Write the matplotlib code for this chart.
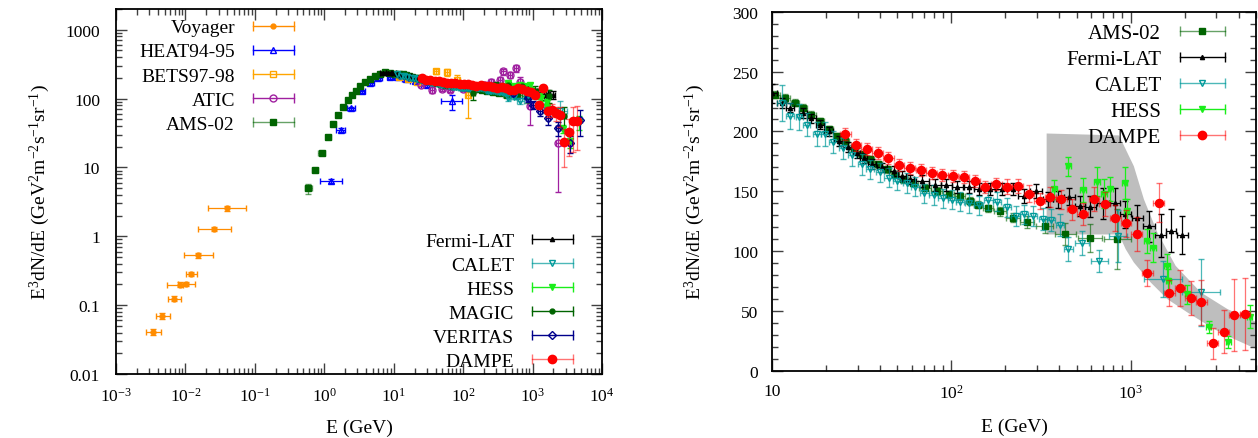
import numpy as np
import matplotlib
matplotlib.use('Agg')
import matplotlib.pyplot as plt
from matplotlib.lines import Line2D
from matplotlib.legend_handler import HandlerLine2D, HandlerTuple
from matplotlib.ticker import LogLocator, MultipleLocator, FuncFormatter, NullFormatter
from matplotlib.colors import to_rgba

plt.rcParams['font.family'] = 'Liberation Serif'
plt.rcParams['mathtext.fontset'] = 'custom'
plt.rcParams['mathtext.rm'] = 'Liberation Serif'
plt.rcParams['mathtext.it'] = 'Liberation Serif:italic'
plt.rcParams['mathtext.bf'] = 'Liberation Serif:bold'

# ---------------- data (E in GeV, E^3 dN/dE in GeV^2 m^-2 s^-1 sr^-1) -------------
voyager_E = [0.00344, 0.00465, 0.00685, 0.00835, 0.0101, 0.0119, 0.0153, 0.0261, 0.0394]
voyager_V = [0.0407, 0.0697, 0.124, 0.199, 0.203, 0.288, 0.53, 1.27, 2.54]
voyager_Elo = [0.0027, 0.0038, 0.0056, 0.0054, 0.0079, 0.0102, 0.0095, 0.0150, 0.0209]
voyager_Ehi = [0.0045, 0.0059, 0.0086, 0.0093, 0.0137, 0.0145, 0.0252, 0.0451, 0.0746]
voyager_err = [0.004, 0.006, 0.01, 0.015, 0.015, 0.02, 0.04, 0.09, 0.18]

heat_E = [1.24, 1.72, 2.43, 3.47, 4.57, 6.0, 8.9, 11.0, 15.0, 20.0, 30.0, 68.7]
heat_V = [6.34, 35.0, 72.5, 127.0, 168.0, 198.0, 205.0, 208.0, 190.0, 180.0, 160.0, 90.8]
heat_err = [0.4, 2.0, 4.0, 7.0, 8.0, 10.0, 10.0, 10.0, 10.0, 10.0, 12.0, 22.0]
heat_dex = [0.16, 0.07, 0.06, 0.05, 0.05, 0.05, 0.05, 0.05, 0.06, 0.06, 0.08, 0.15]

bets_E = [12.0, 16.0, 22.0, 41.0, 58.0, 81.0, 119.0]
bets_V = [205.0, 190.0, 175.0, 248.0, 240.0, 187.0, 113.0]
bets_err = [10.0, 10.0, 10.0, 20.0, 25.0, 30.0, 60.0]

atic_E = [25.0, 35.3, 50.0, 65.0, 100.0, 150.0, 200.0, 250.0, 341.0, 381.0, 476.0, 580.0, 663.0, 923.0, 2360.0]
atic_V = [160.0, 134.0, 138.0, 134.0, 140.0, 150.0, 160.0, 175.0, 187.0, 248.0, 221.0, 277.0, 177.0, 77.0, 22.4]
atic_err = [8.0, 12.0, 8.0, 10.0, 10.0, 12.0, 15.0, 18.0, 20.0, 25.0, 25.0, 35.0, 30.0, 35.0, 18.0]

ams_E = [0.59, 0.736, 0.92, 1.15, 1.35, 1.6, 1.88, 2.18, 2.49, 2.84, 3.28, 3.87, 4.57, 5.4,
         6.37, 7.5, 8.8, 10.4, 11.8, 13.4, 14.9, 16.6, 18.5, 20.7, 23.0, 25.6, 28.5, 31.7,
         35.3, 39.2, 43.7, 48.6, 54.1, 61.5, 71.5, 82.8, 96.5, 112.0, 127.0, 141.0, 160.0,
         186.0, 221.0, 265.0, 331.0, 433.0, 593.0, 843.0]
ams_V = [4.97, 9.2, 16.0, 27.4, 42.4, 58.0, 75.0, 95.7, 113.0, 131.0, 150.0, 173.0, 192.0, 210.0,
         229.0, 240.0, 236.0, 230.8, 228.0, 224.0, 219.7, 214.0, 208.6, 201.7, 196.0, 192.0, 186.4, 180.8,
         176.7, 172.5, 168.3, 164.2, 160.0, 157.2, 153.0, 150.3, 147.5, 146.0, 141.9, 139.0, 136.0,
         133.3, 128.0, 124.4, 121.0, 114.4, 111.0, 110.0]
ams_err = [0.8, 0.4, 0.6, 1.0, 1.5, 2, 2, 3, 3, 3, 3, 3, 3, 3,
           3, 3, 3, 3, 3, 3, 3, 3, 3, 3, 3, 3, 3, 3,
           3, 3, 3, 3, 3, 3, 3, 3, 3, 3, 3, 3, 3,
           4, 4, 5, 6, 9, 12, 25]

fermi_E = [7.0, 8.4, 10.0, 11.3, 12.6, 14.9, 16.6, 18.5, 20.7, 23.5, 26.5, 29.7, 32.5, 36.0,
           41.0, 47.6, 53.0, 59.0, 69.0, 81.0, 93.6, 108.0, 125.0, 142.0, 164.0, 191.0, 220.0,
           253.0, 298.0, 347.0, 395.0, 455.0, 524.0, 597.0, 703.0, 820.0, 935.0, 1090.0, 1265.0,
           1470.0, 1680.0, 1940.0]
fermi_V = [236.0, 237.0, 232.0, 224.0, 220.0, 215.6, 211.0, 205.8, 200.0, 192.0, 187.0, 182.2, 178.0, 173.0,
           170.0, 167.0, 163.0, 160.0, 158.6, 155.0, 155.0, 153.6, 153.9, 152.2, 151.7, 151.7, 152.2,
           146.0, 150.3, 143.3, 143.3, 145.6, 137.8, 137.2, 140.0, 140.0, 130.8, 128.0, 121.0,
           113.3, 117.0, 113.3]
fermi_err = [6, 6, 8, 4, 4, 4, 4, 4, 4, 4, 4, 4, 4, 4,
             4, 4, 4, 4, 5, 5, 5, 5, 5, 5, 5, 5, 5,
             6, 6, 6, 7, 7, 8, 9, 13, 13, 11, 11, 13,
             18, 18, 16]

calet_E = [11.3, 12.6, 14.2, 15.6, 17.8, 19.8, 22.0, 25.0, 27.9, 31.7, 35.3, 40.1, 44.7, 49.7,
           56.6, 63.1, 70.7, 79.6, 89.8, 101.0, 112.0, 126.0, 142.0, 161.0, 179.0, 204.0, 228.0,
           255.0, 284.0, 325.0, 360.0, 405.0, 450.0, 535.0, 670.0, 850.0, 1510.0, 2460.0]
calet_V = [224.0, 212.8, 212.2, 205.8, 198.0, 197.5, 191.0, 185.8, 180.0, 172.5, 168.3, 166.0, 161.4, 159.0,
           157.0, 153.8, 148.3, 146.9, 144.3, 143.0, 141.5, 140.0, 138.2, 142.7, 141.3, 136.8, 129.4,
           131.0, 129.4, 126.7, 126.1, 121.7, 101.7, 107.0, 92.0, 112.8, 76.7, 65.6]
calet_err = [15, 11, 11, 10, 10, 10, 9, 9, 9, 9, 8, 8, 8, 8,
             8, 8, 8, 8, 8, 8, 8, 8, 8, 8, 8, 8, 8,
             8, 8, 9, 9, 9, 10, 10, 9, 22, 15, 28]

hess_E = [376.0, 450.0, 543.0, 650.0, 710.0, 770.0, 925.0, 950.0, 1230.0, 1335.0, 1595.0, 1620.0,
          2070.0, 2720.0, 3500.0, 4610.0]
hess_V = [151.7, 171.0, 151.0, 158.0, 148.0, 152.0, 157.0, 134.0, 108.6, 103.0, 88.0, 75.0,
          64.0, 36.4, 24.0, 45.5]
hess_err = [8, 8, 10, 12, 12, 10, 13, 10, 10, 12, 10, 10, 8, 5, 5, 10]

magic_E = [140.0, 200.0, 300.0, 450.0, 700.0, 1100.0, 1700.0, 2800.0]
magic_V = [120.0, 150.0, 160.0, 160.0, 150.0, 130.0, 110.0, 55.0]
magic_err = [25.0, 15.0, 12.0, 15.0, 15.0, 20.0, 25.0, 20.0]

veritas_E = [531.0, 871.0, 1030.0, 1285.0, 1690.0, 2350.0, 3470.0, 4850.0]
veritas_V = [120.0, 101.0, 81.0, 65.0, 52.0, 37.0, 22.4, 49.0]
veritas_err = [10.0, 12.0, 10.0, 10.0, 10.0, 8.0, 6.0, 20.0]

dampe_E = [25.6, 29.4, 33.8, 38.8, 44.5, 51.0, 58.7, 67.7, 77.6, 89.0, 102.0, 118.0, 135.0, 155.0,
           178.0, 205.0, 234.0, 272.0, 311.0, 357.0, 410.0, 470.0, 540.0, 624.0, 716.0, 822.0,
           942.0, 1081.0, 1240.0, 1433.0, 1645.0, 1885.0, 2162.0, 2483.0, 2871.0, 3296.0, 3780.0, 4333.0]
dampe_V = [197.5, 189.0, 185.5, 181.7, 177.8, 171.7, 169.4, 167.8, 165.6, 163.3, 162.5, 161.9, 158.9, 153.9,
           155.8, 153.9, 154.4, 148.0, 141.9, 145.3, 143.3, 135.0, 131.1, 143.9, 139.4, 127.8,
           123.3, 114.4, 81.7, 140.6, 65.3, 69.2, 61.1, 57.2, 23.3, 32.8, 46.7, 47.8]
dampe_err = [5, 5, 5, 5, 5, 5, 5, 5, 5, 5, 5, 5, 5, 5,
             5, 6, 6, 7, 7, 8, 8, 9, 9, 10, 10, 11,
             11, 14, 11, 16, 11, 15, 14, 19, 13, 18, 30, 30]

# H.E.S.S. systematic band (upper and lower edges)
band_up_E = [340.0, 861.0, 1042.0, 1186.0, 1410.0, 1782.0, 2462.0, 3467.0, 5000.0]
band_up_V = [198.3, 196.7, 171.0, 143.3, 115.6, 87.8, 65.6, 51.7, 41.0]
band_lo_E = [340.0, 861.0, 938.0, 1042.0, 1294.0, 1603.0, 2073.0, 2919.0, 3775.0, 5000.0]
band_lo_V = [114.0, 114.0, 101.7, 90.6, 73.9, 60.0, 48.9, 35.0, 26.7, 18.5]

# ---------------- helpers -----------------
def dex_err(E, d):
    E = np.asarray(E, float)
    d = np.broadcast_to(np.asarray(d, float), E.shape)
    return np.vstack([E - E * 10 ** (-d), E * 10 ** d - E])

def neighbour_dex(E, frac=0.5, cap=0.12):
    lg = np.log10(np.asarray(E, float))
    g = np.diff(lg)
    left = np.concatenate([[g[0]], g])
    right = np.concatenate([g, [g[-1]]])
    return np.minimum(frac * np.minimum(left, right), cap)

def draw(ax, E, V, err, xerr, color, marker, mfc, ms, ealpha=1.0, z=3, lw=0.9, cap=2.2):
    ax.errorbar(E, V, yerr=err, xerr=xerr, fmt=marker, color=color, mfc=mfc, mec=color,
                ms=ms, ecolor=to_rgba(color, ealpha), elinewidth=lw, capsize=cap,
                capthick=lw, mew=1.0, zorder=z)

def handle(color, marker, mfc, ms, ealpha=1.0):
    l1 = Line2D([], [], color=to_rgba(color, ealpha), lw=1.0, marker='|', ms=7, mew=1.0)
    l2 = Line2D([], [], color=color, marker=marker, mfc=mfc, mec=color, ms=ms, ls='none', mew=1.0)
    return (l1, l2), l1

STY = {
    'Voyager': ('#ff8c00', 'o', '#ff8c00', 3.5, 1.0),
    'HEAT94-95': ('#0000ff', '^', 'none', 4.0, 1.0),
    'BETS97-98': ('#ffa500', 's', 'none', 5.0, 1.0),
    'ATIC': ('#a020a0', 'o', 'none', 5.0, 1.0),
    'AMS-02': ('#006400', 's', '#006400', 5.0, 0.6),
    'Fermi-LAT': ('#000000', '^', '#000000', 3.0, 1.0),
    'CALET': ('#009a9a', 'v', 'none', 5.0, 0.7),
    'HESS': ('#1aee1a', 'v', '#1aee1a', 4.5, 1.0),
    'MAGIC': ('#006400', 'o', '#006400', 3.5, 1.0),
    'VERITAS': ('#00008b', 'D', 'none', 4.0, 1.0),
    'DAMPE': ('#ff0000', 'o', '#ff0000', 6.0, 0.55),
}

fig = plt.figure(figsize=(12.58, 4.39), dpi=100)
W, H = 1258.0, 439.0
axL = fig.add_axes([116 / W, (H - 375) / H, 486 / W, 365 / H])
axR = fig.add_axes([772 / W, (H - 372) / H, 484 / W, 359.3 / H])

def S(name):
    return STY[name]

# ---------------- left panel ----------------
c, m, f, ms, a = S('Voyager')
draw(axL, voyager_E, voyager_V, voyager_err,
     [np.array(voyager_E) - np.array(voyager_Elo), np.array(voyager_Ehi) - np.array(voyager_E)],
     c, m, f, ms, a, z=3)
c, m, f, ms, a = S('HEAT94-95')
draw(axL, heat_E, heat_V, heat_err, dex_err(heat_E, heat_dex), c, m, f, ms, a, z=3)
c, m, f, ms, a = S('BETS97-98')
draw(axL, bets_E, bets_V, bets_err, dex_err(bets_E, 0.03), c, m, f, ms, a, z=3)
c, m, f, ms, a = S('ATIC')
draw(axL, atic_E, atic_V, atic_err, dex_err(atic_E, 0.03), c, m, f, ms, a, z=3)
c, m, f, ms, a = S('AMS-02')
draw(axL, ams_E, ams_V, ams_err, dex_err(ams_E, neighbour_dex(ams_E)), c, m, f, ms, a, z=4)
c, m, f, ms, a = S('Fermi-LAT')
draw(axL, fermi_E, fermi_V, fermi_err, dex_err(fermi_E, neighbour_dex(fermi_E, cap=0.04)), c, m, f, ms, a, z=5)
c, m, f, ms, a = S('CALET')
draw(axL, calet_E, calet_V, calet_err, dex_err(calet_E, neighbour_dex(calet_E)), c, m, f, ms, a, z=5)
c, m, f, ms, a = S('HESS')
draw(axL, hess_E, hess_V, hess_err, dex_err(hess_E, 0.015), c, m, f, ms, a, z=5)
c, m, f, ms, a = S('MAGIC')
draw(axL, magic_E, magic_V, magic_err, dex_err(magic_E, 0.03), c, m, f, ms, a, z=5)
c, m, f, ms, a = S('VERITAS')
draw(axL, veritas_E, veritas_V, veritas_err, dex_err(veritas_E, 0.03), c, m, f, ms, a, z=5)
c, m, f, ms, a = S('DAMPE')
draw(axL, dampe_E, dampe_V, dampe_err, dex_err(dampe_E, neighbour_dex(dampe_E)), c, m, f, ms, a, z=6)

axL.set_xscale('log')
axL.set_yscale('log')
axL.set_xlim(1e-3, 1e4)
axL.set_ylim(0.01, 2000)
axL.yaxis.set_major_formatter(FuncFormatter(lambda v, p: '%g' % v))
axL.xaxis.set_major_locator(LogLocator(base=10, numticks=20))
axL.xaxis.set_minor_locator(LogLocator(base=10, subs=np.arange(2, 10), numticks=100))
axL.yaxis.set_major_locator(LogLocator(base=10, numticks=20))
axL.yaxis.set_minor_locator(LogLocator(base=10, subs=np.arange(2, 10), numticks=100))
axL.xaxis.set_minor_formatter(NullFormatter())
axL.yaxis.set_minor_formatter(NullFormatter())
axL.set_xlabel('E (GeV)', fontsize=14, labelpad=10)
axL.set_ylabel(r'E$^{3}$dN/dE (GeV$^{2}$m$^{-2}$s$^{-1}$sr$^{-1}$)', fontsize=14, labelpad=10)

# ---------------- right panel ----------------
axR.fill(np.concatenate([band_up_E, band_lo_E[::-1]]),
         np.concatenate([band_up_V, band_lo_V[::-1]]),
         color='#bebebe', lw=0, zorder=1)
c, m, f, ms, a = S('AMS-02')
draw(axR, ams_E, ams_V, ams_err, dex_err(ams_E, neighbour_dex(ams_E)), c, m, f, 4.8, a, z=3)
c, m, f, ms, a = S('Fermi-LAT')
draw(axR, fermi_E, fermi_V, fermi_err, dex_err(fermi_E, neighbour_dex(fermi_E, cap=0.04)), c, m, f, ms, a, z=4)
c, m, f, ms, a = S('CALET')
draw(axR, calet_E, calet_V, calet_err, dex_err(calet_E, neighbour_dex(calet_E)), c, m, f, ms, a, z=4)
c, m, f, ms, a = S('HESS')
draw(axR, hess_E, hess_V, hess_err, dex_err(hess_E, 0.015), c, m, f, ms, a, z=5)
c, m, f, ms, a = S('DAMPE')
draw(axR, dampe_E, dampe_V, dampe_err, dex_err(dampe_E, neighbour_dex(dampe_E)), c, m, f, 5.8, a, z=6)

axR.set_xscale('log')
axR.set_xlim(10, 5000)
axR.set_ylim(0, 300)
axR.yaxis.set_major_locator(MultipleLocator(50))
axR.yaxis.set_minor_locator(MultipleLocator(10))
axR.xaxis.set_major_locator(LogLocator(base=10, numticks=20))
axR.xaxis.set_minor_locator(LogLocator(base=10, subs=np.arange(2, 10), numticks=100))
axR.xaxis.set_minor_formatter(NullFormatter())
axR.xaxis.set_major_formatter(FuncFormatter(
    lambda v, p: '10' if abs(v - 10) < 1e-6 else r'$10^{%d}$' % round(np.log10(v))))
axR.set_xlabel('E (GeV)', fontsize=14, labelpad=12)
axR.set_ylabel(r'E$^{3}$dN/dE (GeV$^{2}$m$^{-2}$s$^{-1}$sr$^{-1}$)', fontsize=14, labelpad=18)

for ax in (axL, axR):
    ax.tick_params(which='both', direction='in', top=True, right=True, labelsize=12.5, width=1.0,
                   color='0.25')
    ax.tick_params(which='major', length=8)
    ax.tick_params(which='minor', length=4.5)
    ax.tick_params(axis='x', which='both', pad=9)
    for sp in ax.spines.values():
        sp.set_linewidth(1.3)
axL.tick_params(axis='y', which='both', pad=11.5)
axR.tick_params(axis='y', which='both', pad=10)

# ---------------- legends ----------------
def make_legend(ax, names, loc, anchor, fs, spacing):
    hs, labs, hmap = [], [], {tuple: HandlerTuple(ndivide=1, pad=0)}
    for n in names:
        c, m, f, ms, a = STY[n]
        h, cap_line = handle(c, m, f, ms, a)
        hmap[cap_line] = HandlerLine2D(numpoints=2)
        hs.append(h)
        labs.append(n)
    leg = ax.legend(hs, labs, loc=loc, bbox_to_anchor=anchor, fontsize=fs, frameon=False,
                    markerfirst=False, handlelength=2.75, handletextpad=0.6, labelspacing=spacing,
                    borderpad=0, borderaxespad=0, handler_map=hmap)
    return leg

legL1 = make_legend(axL, ['Voyager', 'HEAT94-95', 'BETS97-98', 'ATIC', 'AMS-02'],
                    'upper right', (0.379, 0.973), 14, 0.33)
axL.add_artist(legL1)
make_legend(axL, ['Fermi-LAT', 'CALET', 'HESS', 'MAGIC', 'VERITAS', 'DAMPE'],
            'lower right', (0.953, 0.011), 14, 0.33)
make_legend(axR, ['AMS-02', 'Fermi-LAT', 'CALET', 'HESS', 'DAMPE'],
            'upper right', (0.948, 0.966), 15, 0.3)

fig.savefig('out.png', dpi=100)
